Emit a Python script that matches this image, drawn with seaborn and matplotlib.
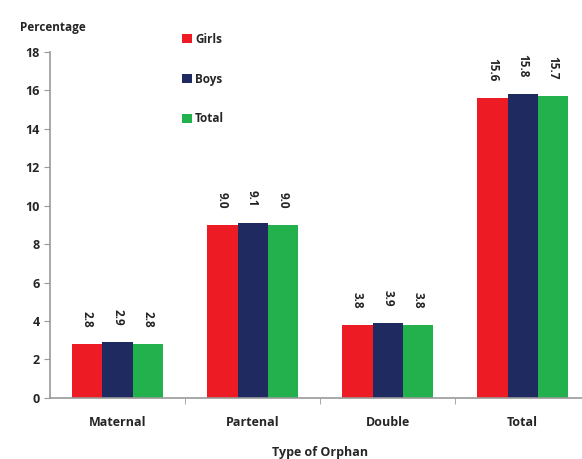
import matplotlib
matplotlib.use("Agg")
import matplotlib.pyplot as plt
import pandas as pd
import seaborn as sns

# data
categorias = ["Maternal", "Partenal", "Double", "Total"]
girls = [2.8, 9.0, 3.8, 15.6]
boys = [2.9, 9.1, 3.9, 15.8]
total = [2.8, 9.0, 3.8, 15.7]
series = ["Girls", "Boys", "Total"]
colores = ["#ED1C24", "#1F2A60", "#22B14C"]

df = pd.DataFrame({
    "orphan": categorias * 3,
    "sexo": ["Girls"] * 4 + ["Boys"] * 4 + ["Total"] * 4,
    "pct": girls + boys + total,
})

sns.set_style("white")
plt.rcParams["font.family"] = ["Open Sans", "DejaVu Sans"]

fig = plt.figure(figsize=(5.82, 4.59), dpi=100)
ax = fig.add_axes([0.086, 0.133, 0.928, 0.754])

sns.barplot(data=df, x="orphan", y="pct", hue="sexo", hue_order=series,
            palette=colores, width=0.67, saturation=1, ax=ax, errorbar=None,
            linewidth=0)

# etiquetas de valor rotadas sobre cada barra
for cont in ax.containers:
    for bar in cont:
        h = bar.get_height()
        ax.annotate(f"{h:.1f}", (bar.get_x() + bar.get_width() / 2, h),
                    xytext=(0, 12), textcoords="offset points",
                    rotation=270, ha="center", va="bottom",
                    fontsize=8.5, fontweight="bold", color="#222222")

ax.set_ylim(0, 18)
ax.set_yticks(range(0, 19, 2))
ax.set_xlim(-0.5, 3.5)
ax.set_xticks([0.5, 1.5, 2.5], minor=True)
ax.tick_params(axis="x", which="major", length=0, labelsize=9, pad=13)
ax.tick_params(axis="x", which="minor", length=4, color="#999999", direction="out", bottom=True)
ax.tick_params(axis="y", length=4, color="#999999", direction="out", left=True, labelsize=9)
for lab in ax.get_xticklabels() + ax.get_yticklabels():
    lab.set_fontweight("bold")

for s in ["top", "right"]:
    ax.spines[s].set_visible(False)
for s in ["left", "bottom"]:
    ax.spines[s].set_color("#999999")
    ax.spines[s].set_linewidth(1.2)

ax.set_xlabel("Type of Orphan", fontsize=9, fontweight="bold", labelpad=12)
ax.set_ylabel("")
fig.text(0.035, 0.94, "Percentage", fontsize=8.5, fontweight="bold", ha="left", va="center")

leg = ax.legend(loc="upper left", bbox_to_anchor=(0.225, 1.085), frameon=False,
                handlelength=0.8, handleheight=0.8, handletextpad=0.3,
                labelspacing=2.25, fontsize=8.5)
for t in leg.get_texts():
    t.set_fontweight("bold")

fig.savefig("out.png", dpi=100)
